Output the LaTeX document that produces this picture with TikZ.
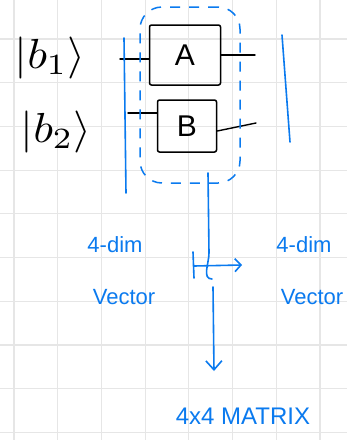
\documentclass[tikz,border=0pt]{standalone}
\usepackage{fontspec}
\setmainfont{Liberation Sans}
\usetikzlibrary{arrows.meta}
\definecolor{pen}{HTML}{0A7AEF}
\definecolor{gridc}{HTML}{E6E6E6}
\tikzset{
  gridline/.style={draw=gridc, line width=1.2pt},
  bluepen/.style={draw=pen, line width=1.6pt, line cap=round},
  blackpen/.style={draw=black, line width=1.4pt, line cap=round},
  gatebox/.style={draw=black, line width=1.5pt, rounded corners=2pt, inner sep=0pt, font=\fontsize{30}{32}\selectfont},
  ket/.style={inner sep=0pt},
  bluetext/.style={text=pen, font=\fontsize{22}{24}\selectfont, inner sep=0pt},
}
\newcommand{\bigket}[1]{\scalebox{4.6}[4.2]{$|b_{#1}\rangle$}}
\begin{document}
\begin{tikzpicture}[x=1pt,y=-1pt]
\useasboundingbox (0,0) rectangle (347,440);
\fill[white] (0,0) rectangle (347,440);
% grid
\foreach \i in {0,...,7} \draw[gridline] ({14+43.7*\i},0) -- ({14+43.7*\i},440);
\foreach \j in {0,...,10} \draw[gridline] (0,{-4.7+43.7*\j}) -- (347,{-4.7+43.7*\j});
% kets
\node[ket] (k1) at (50,58) {\bigket{1}};
\node[ket] (k2) at (56,132) {\bigket{2}};
% gates
\node[gatebox, minimum width=71pt, minimum height=60pt] (A) at (185,55) {A};
\node[gatebox, minimum width=59pt, minimum height=52pt] (B) at (187,126) {B};
% wires
\coordinate (a1) at (120,59);
\coordinate (a2) at (255,55);
\coordinate (b1) at (128,113);
\coordinate (b2) at (256,123);
\draw[blackpen] (a1) -- (a1 -| A.west);
\draw[blackpen] (A.east |- a2) -- (a2);
\draw[blackpen] (b1) -- (b1 -| B.west);
\draw[blackpen] (B.east |- 0,131) -- (b2);
% blue brackets
\coordinate (l1) at (124,38);
\coordinate (l2) at (126,193);
\coordinate (r1) at (282,35);
\coordinate (r2) at (290,142);
\draw[bluepen] (l1) -- (l2);
\draw[bluepen] (r1) -- (r2);
% dashed group
\node[draw=pen, line width=1.5pt, dashed, dash pattern=on 10pt off 9pt, rounded corners=22pt, minimum width=100pt, minimum height=176pt] (grp) at (190,95) {};
% arrows
\coordinate (v1) at (208,173);
\coordinate (v2) at (209,253);
\draw[bluepen] (v1) -- (v2) to[out=-90,in=180] (212,279);
\coordinate (m1) at (193,252);
\coordinate (m2) at (194,278);
\draw[bluepen] (m1) -- (m2);
\coordinate (h1) at (194,266);
\coordinate (h2) at (242,265);
\draw[bluepen, -{Straight Barb[length=6pt,width=13pt]}] (h1) -- (h2);
\coordinate (d1) at (213,287);
\coordinate (d2) at (214,371);
\draw[bluepen, -{Straight Barb[length=9pt,width=16pt]}] (d1) -- (d2);
% labels
\node[bluetext] (t1) at (115,245) {4-dim};
\node[bluetext] (t2) at (124,297) {Vector};
\node[bluetext] (t3) at (304,245) {4-dim};
\node[bluetext] (t4) at (312,297) {Vector};
\node[bluetext, font=\fontsize{24}{26}\selectfont] (t5) at (243,416) {4x4 MATRIX};
\end{tikzpicture}
\end{document}
